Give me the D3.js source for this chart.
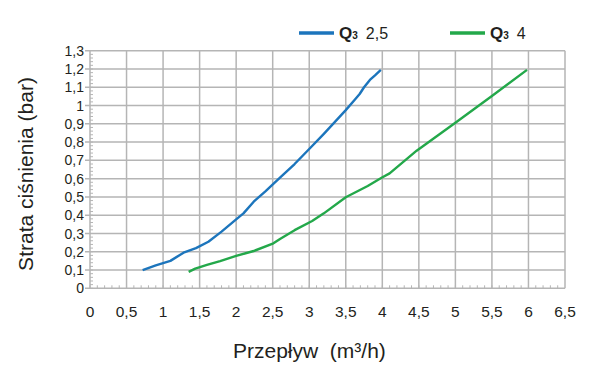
<!DOCTYPE html>
<html>
<head>
<meta charset="utf-8">
<script src="https://cdn.jsdelivr.net/npm/d3@7"></script>
<style>
  body { margin: 0; background: #fff; }
  text { font-family: "Liberation Sans", Arial, sans-serif; fill: #231f20; white-space: pre; }
</style>
</head>
<body>
<script>
// dane
const xTicks = [0, 0.5, 1, 1.5, 2, 2.5, 3, 3.5, 4, 4.5, 5, 5.5, 6, 6.5];
const yTicks = [0, 0.1, 0.2, 0.3, 0.4, 0.5, 0.6, 0.7, 0.8, 0.9, 1, 1.1, 1.2, 1.3];

const q25Flow = [0.72, 0.9, 1.1, 1.28, 1.45, 1.62, 1.8, 2.0, 2.1, 2.24, 2.4, 2.6, 2.8, 3.0, 3.2, 3.5, 3.62, 3.69, 3.75, 3.83, 3.9, 3.98];
const q25Loss = [0.1, 0.125, 0.15, 0.195, 0.22, 0.255, 0.31, 0.377, 0.41, 0.474, 0.53, 0.605, 0.68, 0.762, 0.845, 0.975, 1.03, 1.063, 1.1, 1.14, 1.165, 1.195];

const q4Flow = [1.35, 1.44, 1.6, 1.78, 2.0, 2.24, 2.51, 2.6, 2.8, 3.04, 3.2, 3.5, 3.8, 3.99, 4.1, 4.47, 5.0, 5.5, 5.98];
const q4Loss = [0.09, 0.108, 0.128, 0.149, 0.177, 0.204, 0.246, 0.27, 0.318, 0.368, 0.41, 0.498, 0.56, 0.605, 0.629, 0.753, 0.906, 1.052, 1.195];

const seriesNames = ["2,5", "4"];
const colors = ["#1c75bc", "#23a84a"];

const width = 600, height = 375;
const margin = { left: 90, right: 35, top: 50.7, bottom: 86.7 };

const svg = d3.select("body")
  .append("svg")
  .attr("width", width)
  .attr("height", height);

const x = d3.scaleLinear().domain([0, 6.5]).range([margin.left, width - margin.right]);
const y = d3.scaleLinear().domain([0, 1.3]).range([height - margin.bottom, margin.top]);

const gridColor = "#b5b5b5";

// siatka
svg.append("g")
  .selectAll("line")
  .data(xTicks)
  .join("line")
  .attr("x1", d => x(d)).attr("x2", d => x(d))
  .attr("y1", y(0)).attr("y2", y(1.3))
  .attr("stroke", gridColor)
  .attr("stroke-width", 1.5);

svg.append("g")
  .selectAll("line")
  .data(yTicks)
  .join("line")
  .attr("x1", x(0) - 5).attr("x2", x(6.5))
  .attr("y1", d => y(d)).attr("y2", d => y(d))
  .attr("stroke", gridColor)
  .attr("stroke-width", 1.5);

// drobne podziałki
const xMinor = d3.range(0, 65).map(i => i / 10);
svg.append("g")
  .selectAll("line")
  .data(xMinor)
  .join("line")
  .attr("x1", d => x(d)).attr("x2", d => x(d))
  .attr("y1", y(0)).attr("y2", y(0) - 3)
  .attr("stroke", gridColor)
  .attr("stroke-width", 1);

const yMinor = d3.range(0, 65).map(i => i / 50);
svg.append("g")
  .selectAll("line")
  .data(yMinor)
  .join("line")
  .attr("x1", x(0)).attr("x2", x(0) + 3)
  .attr("y1", d => y(d)).attr("y2", d => y(d))
  .attr("stroke", gridColor)
  .attr("stroke-width", 1);

// opisy osi
const fmt = d => String(d).replace(".", ",");

svg.append("g")
  .selectAll("text")
  .data(xTicks)
  .join("text")
  .attr("x", d => x(d))
  .attr("y", y(0) + 28.5)
  .attr("text-anchor", "middle")
  .style("font-size", "15.5px")
  .text(fmt);

svg.append("g")
  .selectAll("text")
  .data(yTicks)
  .join("text")
  .attr("x", x(0) - 6)
  .attr("y", d => y(d))
  .attr("dy", "0.36em")
  .attr("text-anchor", "end")
  .style("font-size", "14px")
  .text(fmt);

svg.append("text")
  .attr("x", 233)
  .attr("y", 358)
  .style("font-size", "21px")
  .text("Przepływ  (m³/h)");

svg.append("text")
  .attr("transform", "translate(33,174) rotate(-90)")
  .attr("text-anchor", "middle")
  .style("font-size", "21px")
  .text("Strata ciśnienia (bar)");

// krzywe
const line = d3.line().x(d => x(d[0])).y(d => y(d[1]));
const series = [d3.zip(q25Flow, q25Loss), d3.zip(q4Flow, q4Loss)];

svg.append("g")
  .selectAll("path")
  .data(series)
  .join("path")
  .attr("d", line)
  .attr("fill", "none")
  .attr("stroke", (d, i) => colors[i])
  .attr("stroke-width", 2.4)
  .attr("stroke-linejoin", "round");

// legenda
const legendX = [299, 450];
const lg = svg.append("g")
  .selectAll("g")
  .data(seriesNames)
  .join("g")
  .attr("transform", (d, i) => `translate(${legendX[i]},33)`);

lg.append("line")
  .attr("x1", 0).attr("x2", 35)
  .attr("stroke", (d, i) => colors[i])
  .attr("stroke-width", 3.3);

const lt = lg.append("text")
  .attr("x", 40)
  .attr("y", 5.5)
  .style("font-size", "16px");
lt.append("tspan").style("font-weight", "bold").style("font-size", "17px").text("Q");
lt.append("tspan").style("font-weight", "bold").style("font-size", "10px").text("3");
lt.append("tspan").attr("dx", 8).text(d => d);
</script>
</body>
</html>
